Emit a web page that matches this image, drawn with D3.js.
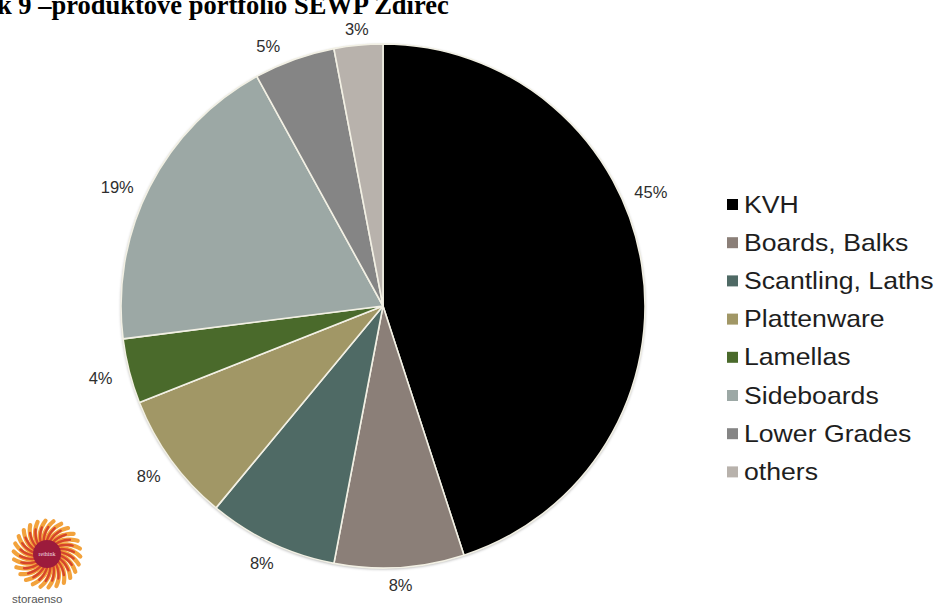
<!DOCTYPE html>
<html>
<head>
<meta charset="utf-8">
<script src="https://cdn.jsdelivr.net/npm/d3@7/dist/d3.min.js"></script>
<style>
  html, body { margin: 0; padding: 0; background: #fff; }
  svg { display: block; }
</style>
</head>
<body>
<svg id="chart" width="939" height="606"></svg>
<script>
// Product portfolio shares (per cent), clockwise from 12 o'clock
const categories = ["KVH", "Boards, Balks", "Scantling, Laths", "Plattenware",
                    "Lamellas", "Sideboards", "Lower Grades", "others"];
const shares = [45, 8, 8, 8, 4, 19, 5, 3];
const sliceColors = ["#000000", "#8b7f78", "#4f6a65", "#a19766",
                     "#4a6a2b", "#9ca8a5", "#858585", "#b8b2ac"];
const titleText = "k 9 \u2013produktové portfolio SEWP Ždírec";

const svg = d3.select("#chart");
const cx = 383, cy = 306, R = 262;

// Heading (bold serif, runs off the top-left edge)
svg.append("text")
  .attr("x", -3).attr("y", 14)
  .attr("font-family", "'Liberation Serif', 'Times New Roman', serif")
  .attr("font-weight", "bold")
  .attr("font-size", 26.5)
  .attr("fill", "#000")
  .text(titleText);

const data = categories.map((c, i) => ({ name: c, value: shares[i], color: sliceColors[i] }));

const pie = d3.pie().value(d => d.value).sort(null).startAngle(0).endAngle(2 * Math.PI);
const arcs = pie(data);
const arc = d3.arc().innerRadius(0).outerRadius(R);

// soft shadow around the disc
const defs = svg.append("defs");
const f = defs.append("filter").attr("id", "shadow")
  .attr("x", "-10%").attr("y", "-10%").attr("width", "120%").attr("height", "120%");
f.append("feDropShadow").attr("dx", 0).attr("dy", 1).attr("stdDeviation", 1.6)
  .attr("flood-color", "#000").attr("flood-opacity", 0.35);

const g = svg.append("g").attr("transform", `translate(${cx},${cy})`);

g.append("circle").attr("r", R).attr("fill", "#f2f0e6").attr("filter", "url(#shadow)");

g.selectAll("path.slice")
  .data(arcs)
  .join("path")
  .attr("class", "slice")
  .attr("d", arc)
  .attr("fill", d => d.data.color)
  .attr("stroke", "#f2f0e4")
  .attr("stroke-width", 1.6)
  .attr("stroke-linejoin", "round");

// Percentage labels outside the rim; a few are turned a little anticlockwise
// (or pulled in) so they sit clear of neighbours, the heading and the legend.
const deg = Math.PI / 180;
const labelTurn = { "KVH": -14 * deg, "Sideboards": -3 * deg, "Lower Grades": -4 * deg };
const labelPull = { "others": 2.5 };
g.selectAll("text.pct")
  .data(arcs)
  .join("text")
  .attr("class", "pct")
  .attr("transform", d => {
    const a = (d.startAngle + d.endAngle) / 2 + (labelTurn[d.data.name] || 0);
    const dist = R + 17 + 13 * Math.abs(Math.sin(a)) - (labelPull[d.data.name] || 0);
    const x = dist * Math.sin(a), y = -dist * Math.cos(a);
    return `translate(${x},${y})`;
  })
  .attr("text-anchor", "middle")
  .attr("dy", "0.35em")
  .attr("font-family", "'Liberation Sans', Arial, sans-serif")
  .attr("font-size", 16.5)
  .attr("fill", "#2e2e2e")
  .text(d => d.data.value + "%");

// Legend
const legendY = d3.scalePoint().domain(categories).range([204, 204 + 38.2 * 7]);
const rows = svg.append("g").selectAll("g.row").data(data).join("g")
  .attr("class", "row")
  .attr("transform", d => `translate(727,${legendY(d.name)})`);
rows.append("rect")
  .attr("x", 0).attr("y", -5).attr("width", 11).attr("height", 11)
  .attr("fill", d => d.color);
rows.append("text")
  .attr("transform", "translate(17,8.5) scale(1.11,1)")
  .attr("font-family", "'Liberation Sans', Arial, sans-serif")
  .attr("font-size", 24)
  .attr("fill", "#1e1e1e")
  .text(d => d.name);

// Company mark, bottom-left: swirl of petals round a dark-red core
const logo = svg.append("g").attr("transform", "translate(47,554)");
const nPetals = 26;
const petal = d3.range(nPetals);
const swirl = (t, steps, dr, off) => {
  const a0 = t * 2 * Math.PI / nPetals + off;
  const p = [];
  for (let k = 0; k <= steps; k++) {
    const r = 11 + k * dr;
    const a = a0 + k * 0.07;
    p.push([r * Math.cos(a), r * Math.sin(a)]);
  }
  return d3.line().curve(d3.curveCatmullRom)(p);
};
logo.selectAll("path.outer").data(petal).join("path")
  .attr("d", t => swirl(t, 8, 2.8, 0))
  .attr("fill", "none")
  .attr("stroke", "#f2a23c")
  .attr("stroke-width", 4.2)
  .attr("stroke-linecap", "round");
logo.selectAll("path.inner").data(petal).join("path")
  .attr("d", t => swirl(t, 5, 3.2, 0.06))
  .attr("fill", "none")
  .attr("stroke", "#d6452b")
  .attr("stroke-width", 2.4)
  .attr("stroke-linecap", "round");
logo.append("circle").attr("r", 14).attr("fill", "#9c1b3c");
logo.append("text")
  .attr("text-anchor", "middle").attr("dy", "0.35em")
  .attr("font-family", "'Liberation Serif', serif")
  .attr("font-size", 6).attr("fill", "#f3dde2")
  .text("rethink");
svg.append("text")
  .attr("x", 12).attr("y", 603)
  .attr("font-family", "'Liberation Sans', Arial, sans-serif")
  .attr("font-size", 11.5)
  .attr("fill", "#555")
  .text("storaenso");
</script>
</body>
</html>
